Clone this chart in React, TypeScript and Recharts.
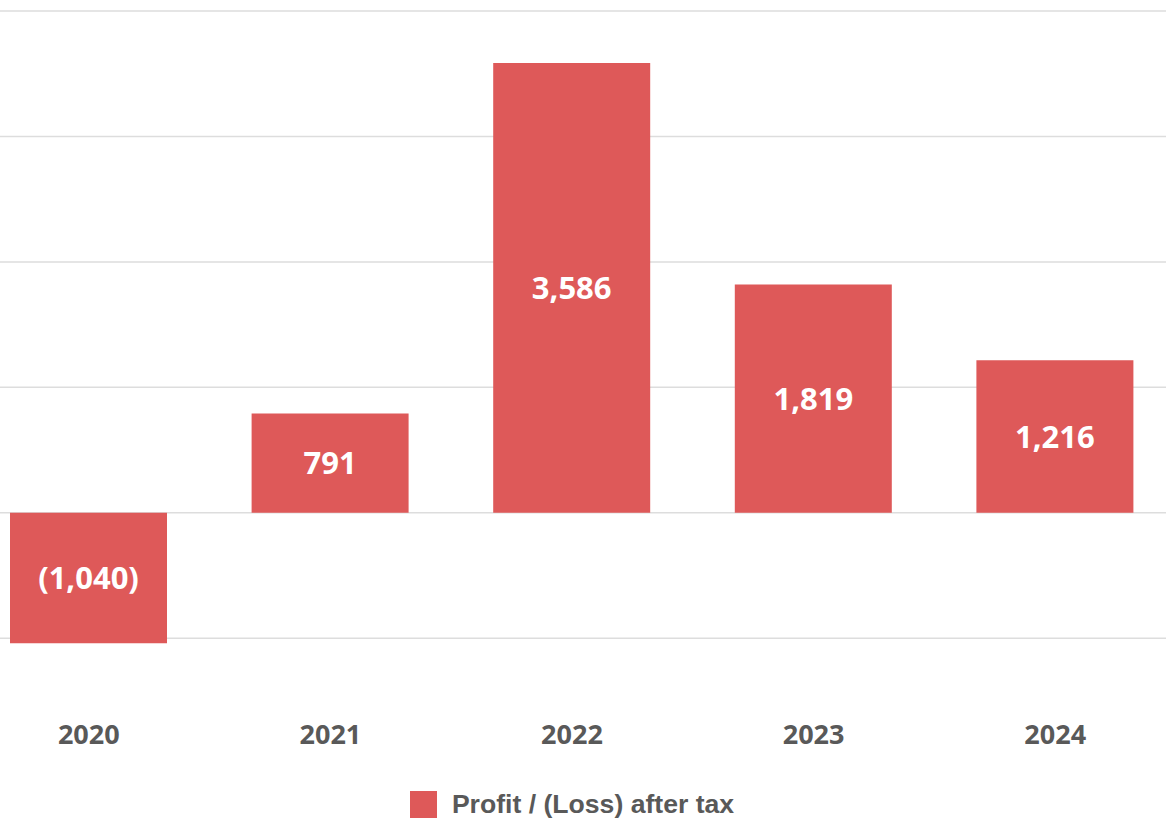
import { BarChart, Bar, XAxis, YAxis, CartesianGrid, Legend, LabelList } from 'recharts';

// Profit / (Loss) after tax, by year
const years = ['2020', '2021', '2022', '2023', '2024'];
const profitAfterTax = [-1040, 791, 3586, 1819, 1216];
const yTicks = [-1000, 0, 1000, 2000, 3000, 4000];

const BAR_COLOR = '#DE5959';
const TEXT_COLOR = '#595959';

const data = years.map((year, i) => ({ year, profit: profitAfterTax[i] }));

// negatives shown in brackets, e.g. (1,040)
const formatValue = (v: number) => {
  const s = Math.abs(v).toLocaleString('en-US');
  return v < 0 ? `(${s})` : s;
};

function LegendContent() {
  return (
    <div
      style={{
        display: 'flex',
        justifyContent: 'center',
        alignItems: 'center',
        height: 28,
        fontFamily: '"Liberation Sans", Arial, sans-serif',
        fontWeight: 700,
        fontSize: 26.6,
        color: TEXT_COLOR,
      }}
    >
      <span style={{ width: 27, height: 27, background: BAR_COLOR, marginRight: 15, display: 'inline-block' }} />
      <span>Profit / (Loss) after tax</span>
    </div>
  );
}

export default function App() {
  return (
    <div
      style={{
        position: 'absolute',
        left: 0,
        top: 0,
        width: 1166,
        height: 819,
        overflow: 'hidden',
        background: '#FFFFFF',
      }}
    >
      <div style={{ position: 'absolute', left: -40, top: 0 }}>
        <BarChart
          width={1216}
          height={819}
          data={data}
          margin={{ top: 11, right: 0, left: 8, bottom: 1 }}
        >
          <CartesianGrid
            horizontal
            vertical={false}
            horizontalValues={yTicks}
            stroke="#DDDDDD"
            strokeWidth={1.5}
          />
          <XAxis
            dataKey="year"
            axisLine={false}
            tickLine={false}
            height={89}
            tickMargin={18}
            tick={{ fill: TEXT_COLOR, fontSize: 27, fontWeight: 700, fontFamily: '"Open Sans", sans-serif' }}
          />
          <YAxis hide domain={[-1500, 4000]} ticks={yTicks} allowDataOverflow />
          <Legend verticalAlign="bottom" content={<LegendContent />} />
          <Bar dataKey="profit" fill={BAR_COLOR} barSize={157} isAnimationActive={false}>
            <LabelList
              dataKey="profit"
              position="center"
              formatter={(v: any) => formatValue(Number(v))}
              fill="#FFFFFF"
              style={{ fontSize: 31, fontWeight: 700, fontFamily: '"Open Sans", sans-serif' }}
            />
          </Bar>
        </BarChart>
      </div>
    </div>
  );
}
